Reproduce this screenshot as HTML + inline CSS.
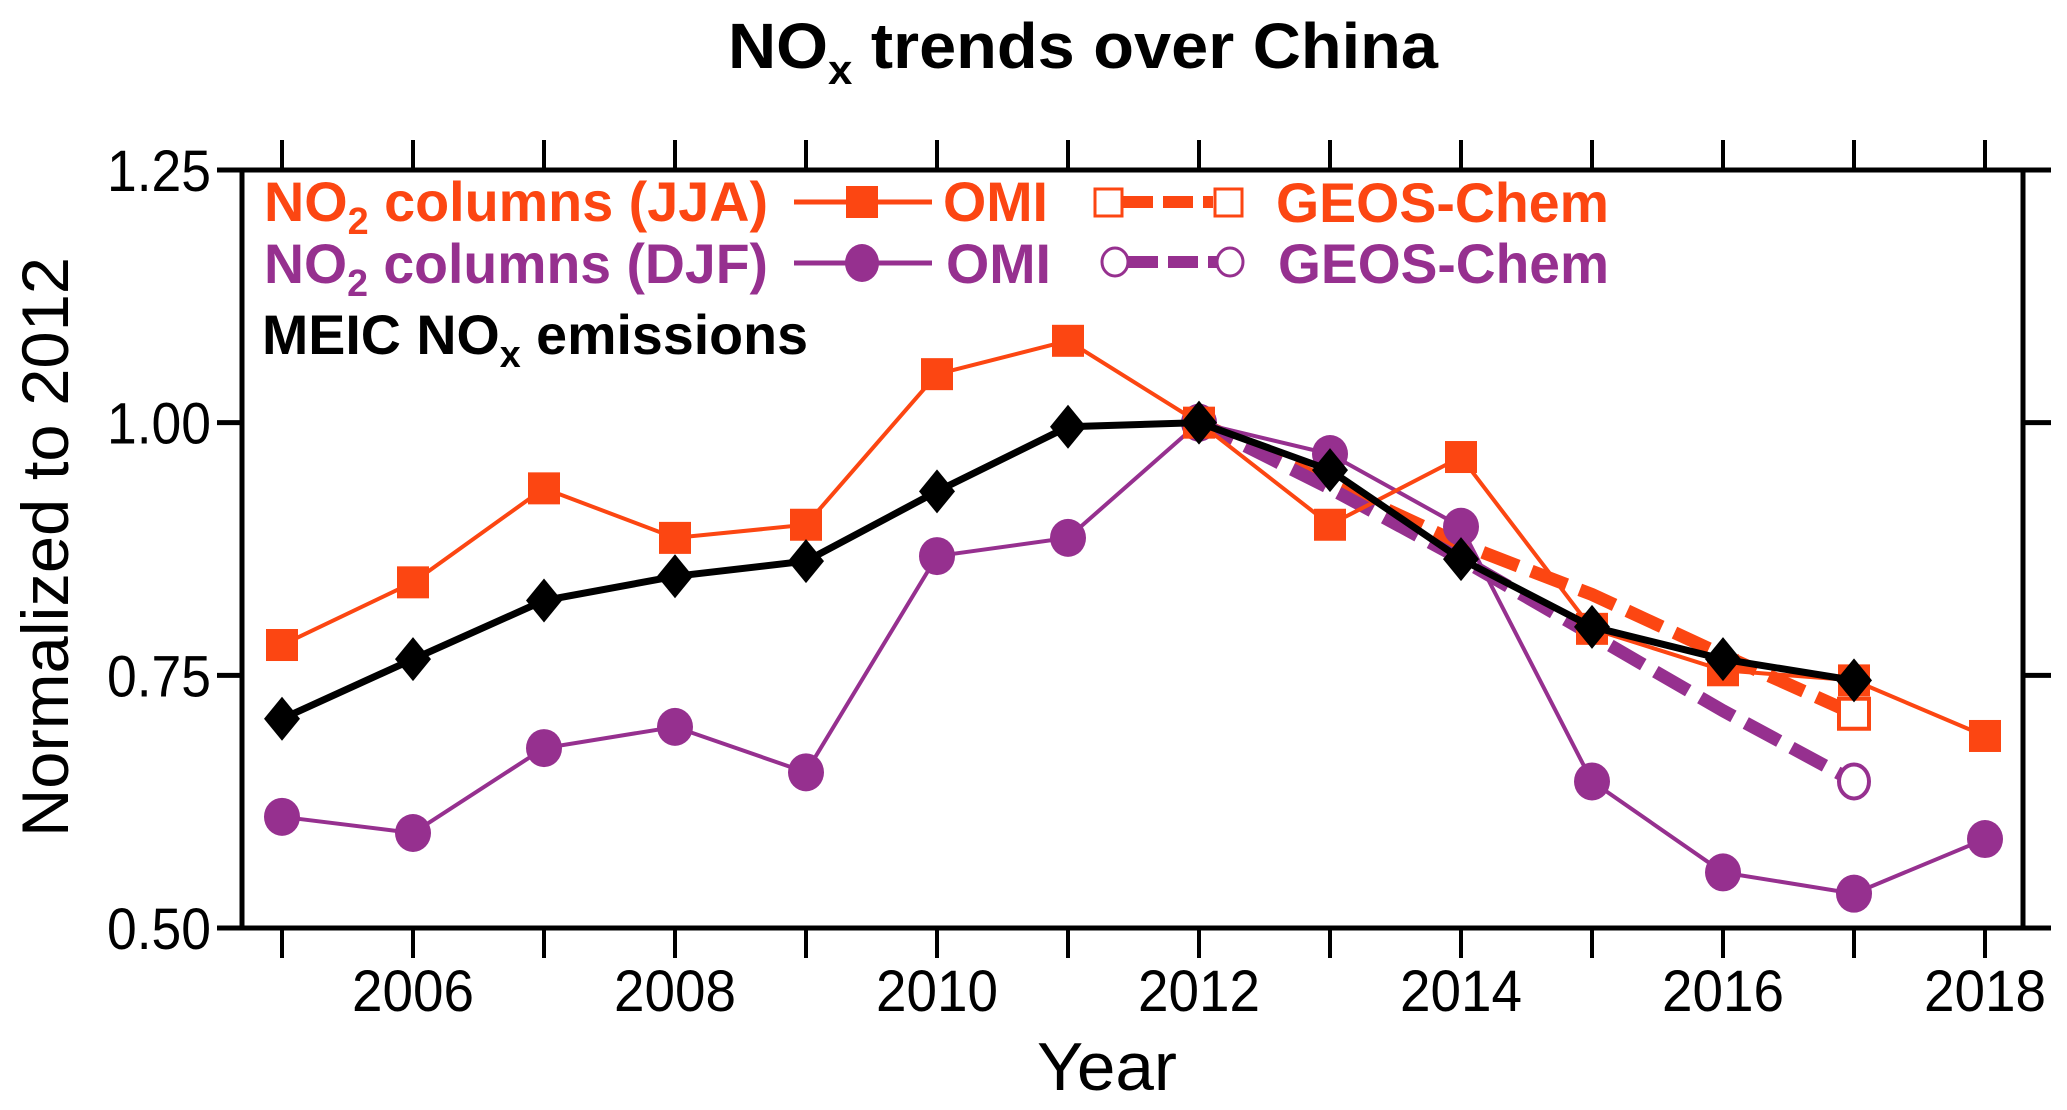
<!DOCTYPE html>
<html><head><meta charset="utf-8"><style>
html,body{margin:0;padding:0;background:#fff}
svg{display:block}
text{font-family:"Liberation Sans",sans-serif}
</style></head><body>
<svg id="chart" width="2067" height="1110" viewBox="0 0 2067 1110" xmlns="http://www.w3.org/2000/svg">
<text x="728" y="68" font-size="64" font-weight="bold" textLength="710" lengthAdjust="spacingAndGlyphs">NO<tspan font-size="42" dy="16">x</tspan><tspan dy="-16"> trends over China</tspan></text>
<g id="axes"></g>
<g id="series"></g>
<g id="legend">
 <text x="264" y="221" font-size="56" font-weight="bold" fill="#fc4612" textLength="504" lengthAdjust="spacingAndGlyphs">NO<tspan font-size="38" dy="13">2</tspan><tspan dy="-13"> columns (JJA)</tspan></text>
 <text x="264" y="283" font-size="56" font-weight="bold" fill="#96308f" textLength="504" lengthAdjust="spacingAndGlyphs">NO<tspan font-size="38" dy="13">2</tspan><tspan dy="-13"> columns (DJF)</tspan></text>
 <text x="262" y="354" font-size="56" font-weight="bold" fill="#000" textLength="546" lengthAdjust="spacingAndGlyphs">MEIC NO<tspan font-size="38" dy="13">x</tspan><tspan dy="-13"> emissions</tspan></text>
 <line x1="794" y1="202" x2="932" y2="202" stroke="#fc4612" stroke-width="5"/>
 <rect x="846" y="186" width="32" height="32" fill="#fc4612"/>
 <text x="943" y="221" font-size="56" font-weight="bold" fill="#fc4612" textLength="105" lengthAdjust="spacingAndGlyphs">OMI</text>
 <line x1="794" y1="263" x2="932" y2="263" stroke="#96308f" stroke-width="5"/>
 <ellipse cx="862" cy="263" rx="17" ry="19" fill="#96308f"/>
 <text x="946" y="283" font-size="56" font-weight="bold" fill="#96308f" textLength="105" lengthAdjust="spacingAndGlyphs">OMI</text>
 <line x1="1123" y1="202" x2="1213" y2="202" stroke="#fc4612" stroke-width="12" stroke-dasharray="30,10"/>
 <rect x="1095" y="189" width="27" height="27" fill="#fff" stroke="#fc4612" stroke-width="3"/>
 <rect x="1215" y="189" width="27" height="27" fill="#fff" stroke="#fc4612" stroke-width="3"/>
 <text x="1276" y="222" font-size="56" font-weight="bold" fill="#fc4612" textLength="333" lengthAdjust="spacingAndGlyphs">GEOS-Chem</text>
 <line x1="1128" y1="262" x2="1217" y2="262" stroke="#96308f" stroke-width="12" stroke-dasharray="30,10"/>
 <ellipse cx="1115" cy="262" rx="13" ry="14" fill="#fff" stroke="#96308f" stroke-width="3"/>
 <ellipse cx="1230" cy="262" rx="13" ry="14" fill="#fff" stroke="#96308f" stroke-width="3"/>
 <text x="1278" y="283" font-size="56" font-weight="bold" fill="#96308f" textLength="331" lengthAdjust="spacingAndGlyphs">GEOS-Chem</text>
</g>
<text transform="translate(68,547) rotate(-90)" text-anchor="middle" font-size="66" textLength="580" lengthAdjust="spacingAndGlyphs">Normalized to 2012</text>
<text x="1107" y="1090" text-anchor="middle" font-size="68" textLength="140" lengthAdjust="spacingAndGlyphs">Year</text>
</svg>
<script>
const years = [2005,2006,2007,2008,2009,2010,2011,2012,2013,2014,2015,2016,2017,2018];
const jjaOmi = [0.78,0.842,0.935,0.886,0.899,1.048,1.081,1.0,0.899,0.966,0.796,0.755,0.745,0.69];
const djfOmi = [0.61,0.594,0.678,0.699,0.654,0.868,0.886,1.0,0.969,0.897,0.645,0.555,0.534,0.588];
const meic = [0.707,0.766,0.824,0.848,0.863,0.932,0.996,1.0,0.953,0.865,0.798,0.766,0.745];
const geosYears = [2012,2013,2014,2015,2016,2017];
const jjaGeos = [1.0,0.94,0.88,0.83,0.77,0.712];
const djfGeos = [1.0,0.935,0.865,0.79,0.715,0.645];
const yTicks = [0.50,0.75,1.00,1.25];
const yTickLabels = ["0.50","0.75","1.00","1.25"];
const xLabelYears = [2006,2008,2010,2012,2014,2016,2018];

const NS='http://www.w3.org/2000/svg';
const X0=242,X1=2023,Y0=170,Y1=928;
function xs(yr){return 282+(yr-2005)*131;}
function ys(v){return Y1-(v-0.5)/0.75*(Y1-Y0);}
function mk(tag,attrs,parent){const e=document.createElementNS(NS,tag);for(const k in attrs)e.setAttribute(k,attrs[k]);parent.appendChild(e);return e;}
const ax=document.getElementById('axes'), sr=document.getElementById('series');
const ORANGE='#fc4612', PURPLE='#96308f';

let l;
l=mk('line',{x1:X0,y1:Y0-2,x2:X0,y2:Y1+2,stroke:'#000','stroke-width':5},ax);

l=mk('line',{x1:X1,y1:Y0-2,x2:X1,y2:Y1+2,stroke:'#000','stroke-width':5},ax);

l=mk('line',{x1:217,y1:Y0,x2:2047,y2:Y0,stroke:'#000','stroke-width':5},ax);

l=mk('line',{x1:217,y1:Y1,x2:2047,y2:Y1,stroke:'#000','stroke-width':5},ax);


years.forEach(yr=>{
  const x=xs(yr);
  let t=mk('line',{x1:x,y1:Y1,x2:x,y2:Y1+30,stroke:'#000','stroke-width':4},ax);
  
  t=mk('line',{x1:x,y1:Y0,x2:x,y2:Y0-30,stroke:'#000','stroke-width':4},ax);
  
});
xLabelYears.forEach(yr=>{
  const t=mk('text',{x:xs(yr),y:1011,'text-anchor':'middle','font-size':58,textLength:122,lengthAdjust:'spacingAndGlyphs'},ax);
  
  t.textContent=yr;
});
yTicks.forEach((v,i)=>{
  const y=ys(v);
  let t=mk('line',{x1:217,y1:y,x2:X0,y2:y,stroke:'#000','stroke-width':5},ax);
  
  t=mk('line',{x1:X1,y1:y,x2:2051,y2:y,stroke:'#000','stroke-width':5},ax);
  
  const tx=mk('text',{x:211,y:y+21,'text-anchor':'end','font-size':58,textLength:104,lengthAdjust:'spacingAndGlyphs'},ax);
  
  tx.textContent=yTickLabels[i];
});

function pts(xsArr,vals){return vals.map((v,i)=>xs(xsArr[i])+','+ys(v)).join(' ');}

let p=mk('polyline',{points:pts(geosYears,jjaGeos),fill:'none',stroke:ORANGE,'stroke-width':13,'stroke-dasharray':'38,14'},sr);

p=mk('polyline',{points:pts(geosYears,djfGeos),fill:'none',stroke:PURPLE,'stroke-width':13,'stroke-dasharray':'38,14'},sr);

let n=geosYears.length-1;
let m=mk('rect',{x:xs(geosYears[n])-15,y:ys(jjaGeos[n])-15,width:30,height:30,fill:'#fff',stroke:ORANGE,'stroke-width':4},sr);

m=mk('ellipse',{cx:xs(geosYears[n]),cy:ys(djfGeos[n]),rx:15,ry:17,fill:'#fff',stroke:PURPLE,'stroke-width':4},sr);


p=mk('polyline',{points:pts(years,djfOmi),fill:'none',stroke:PURPLE,'stroke-width':4},sr);

djfOmi.forEach((v,i)=>{
  const c=mk('ellipse',{cx:xs(years[i]),cy:ys(v),rx:18,ry:19,fill:PURPLE},sr);
  
});
p=mk('polyline',{points:pts(years,jjaOmi),fill:'none',stroke:ORANGE,'stroke-width':4},sr);

jjaOmi.forEach((v,i)=>{
  const r=mk('rect',{x:xs(years[i])-16,y:ys(v)-16,width:32,height:32,fill:ORANGE},sr);
  
});
p=mk('polyline',{points:pts(years,meic),fill:'none',stroke:'#000','stroke-width':7},sr);

meic.forEach((v,i)=>{
  const x=xs(years[i]),y=ys(v);
  const d=mk('polygon',{points:`${x},${y-22} ${x+18},${y} ${x},${y+22} ${x-18},${y}`,fill:'#000'},sr);
  
});
</script>
</body></html>
